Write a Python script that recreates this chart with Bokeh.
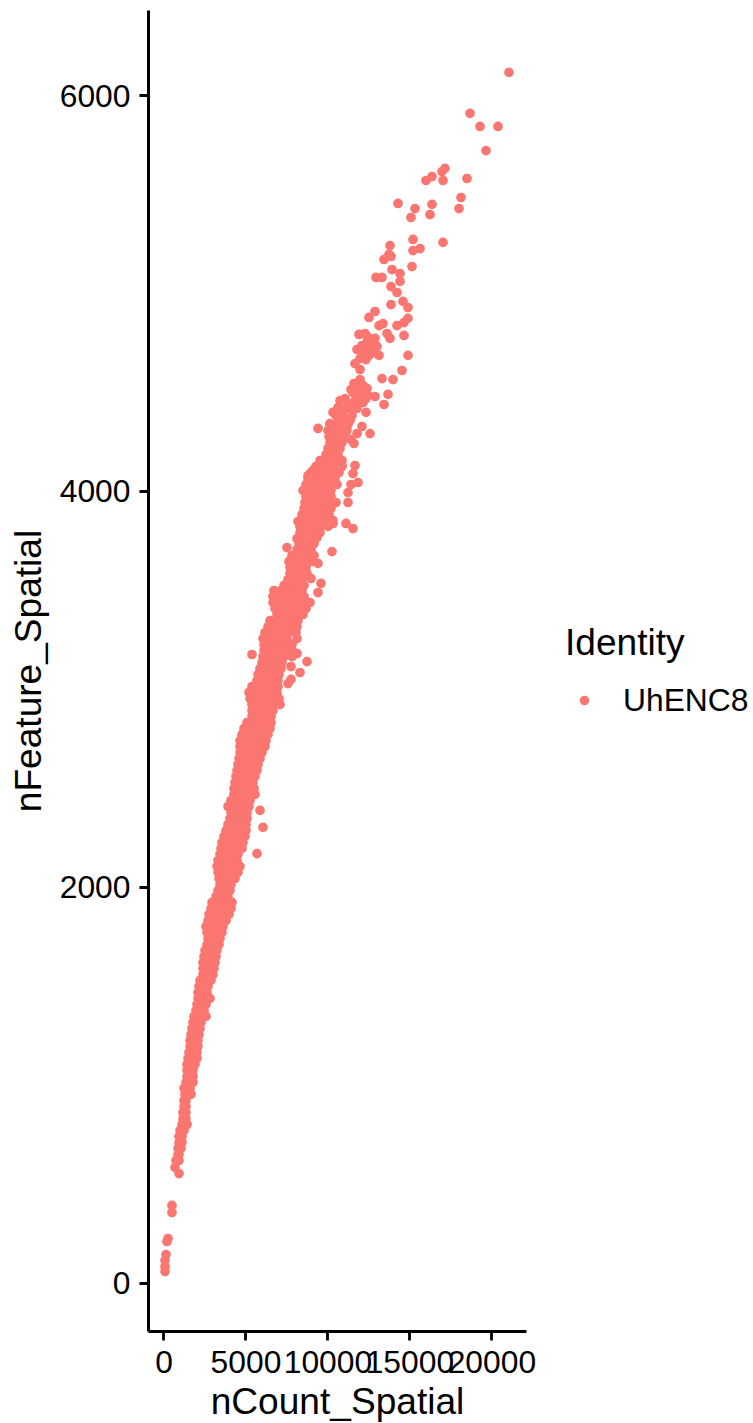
from bokeh.plotting import figure
from bokeh.models import FixedTicker, Legend, LegendItem, ColumnDataSource, Range1d
from bokeh.embed import file_html
from bokeh.resources import INLINE

# Points that can be read individually (upper, sparse part and the low tail)
sparse_count = [21045,18666,19276,20374,19642,17141,16958,16348,15982,17019,18483,18117,17995,14274,15311,16348,16226,15067,
15189,17019,13786,15189,15616,13725,13847,13420,15128,13908,14396,12932,13298,14396,13847,14213,14579,13847,14884,12871,12505,
14884,14640,14213,13359,13115,14640,11895,12261,13603,13786,12871,12383,12993,11773,12444,13115,14884,12322,11956,11651,11956,
14518,13298,13969,11956,11590,11407,12383,11834,12871,13664,11956,13420,12139,10736,11041,11224,11773,12322,10309,10858,11468,
10126,10614,12078,9394,10919,11773,12566,10126,10614,11163,11407,11590,10431,10126,10614,9943,9516,10675,10309,10858,11651,
9699,9089,8784,11529,9333,9943,10309,11834,11407,9028,9638,8479,11224,9089,10004,8723,9394,10492,11224,9943,8723,9333,8174,
9028,9638,10309,11102,11529,8418,9211,8113,8784,10248,7503,9394,9577,9394,8967,8723,8296,7747,7747,7564,5368,5856,6039,5673,8113,
488,488,244,183,122,61,61,61,
12383,12688,12078,12627,12261,12749,12078,12505,12810,12200,
11712,12139,11529,11834,12200,12444,11651,12017,12322,
10614,11102,11468,10492,11041,11346]
sparse_feature = [6117,5910,5844,5844,5722,5632,5616,5591,5571,5571,5581,5485,5429,5455,5429,5450,5399,5384,
5273,5258,5242,5217,5227,5197,5187,5172,5136,5121,5101,5081,5081,5061,5035,5005,4960,4944,4929,4909,4879,
4874,4853,4838,4848,4838,4788,4793,4798,4798,4773,4773,4752,4732,4717,4712,4687,4687,4666,4671,4646,4616,
4611,4570,4565,4565,4545,4515,4520,4520,4479,4490,4485,4439,4449,4459,4469,4444,4419,4399,4399,4394,4383,
4343,4348,4328,4318,4318,4292,4292,4282,4292,4308,4262,4242,4257,4222,4222,4171,4156,4166,4141,4131,4131,
4121,4106,4080,4090,4070,4080,4045,4045,4035,4040,4020,4004,3994,3994,3989,3959,3954,3944,3944,3919,3898,3893,3848,
3853,3853,3838,3838,3812,3807,3792,3762,3767,3696,3716,3636,3535,3489,3560,3140,3085,3115,3050,3029,3176,2388,2302,2170,3181,
392,356,225,210,144,114,83,58,
4783,4762,4737,4732,4712,4712,4702,4687,4702,4682,
4540,4535,4500,4490,4505,4485,4459,4459,4469,
4424,4419,4419,4383,4368,4358]

# Dense band, read row by row: one nFeature level and the nCount values seen there
band_feature = [4338,4308,4277,4247,4217,4186,4156,4126,4095,4065,4035,4004,3974,3944,3914,3883,3853,3823,3792,
3767,3737,3706,3676,3646,3616,3585,3555,3525,3499,3469,3438,3408,3378,3347,3317,3287,3256,3226,3196,3165,3135,3105,3075,
3044,3014,2984,2953,2923,2893,2863,2832,2802,2772,2741,2711,2681,2650,2620,2590,2560,2529,2499,2469,2438,2408,2378,2347,2317,2287,
2257,2226,2196,2166,2135,2105,2075,2044,2014,1984,1953,1923,1893,1863,1832,1802,1772,1741,1711,1681,1650,1620,1590,1559,1529,1499,
1468,1438,1408,1378,1347,1317,1287,1256,1226,1196,1165,1135,1105,1075,1044,1014,984,953,922,892,862,831,801,771,741,710,680,649,619,584,553]
band_counts = [
[10126,10492,10858,11224],[10004,10370,10736,11102],[10065,10431,10797,11041],[10126,10492,10858],[10004,10370,10736],[9882,10248,10614],
[9638,10065,10492,10858],[9272,9699,10126,10553,10858],[8967,9394,9821,10248,10675],[8784,9211,9638,10065,10431],
[8662,9028,9455,9882,10309,10553],[8540,8967,9394,9821,10187],[8662,9028,9455,9882,10187],[8601,9028,9455,9882,10309],
[8540,8967,9394,9821,10187],[8418,8845,9272,9699,10065],[8296,8723,9150,9577,10004,10309],[8296,8723,9150,9577,10004],[8296,8723,9150,9516],
[8479,8906,9333],[8235,8662,9150],[8113,8540,8967],[7808,8296,8784,9150],[7625,8113,8601,9028],[7686,8174,8662],[7686,8113,8479,8723],
[7564,7991,8418],[7320,7747,8174,8540],[6710,7137,7564,7991,8418],[6649,7076,7564,8052,8540],[6649,7137,7625,8113,8601,8906],
[6771,7259,7747,8235,8662],[6893,7320,7747,8174,8479],[6466,6954,7442,7930,8174],[6344,6832,7320,7808,8113],[6161,6649,7137,7625,8052],
[6039,6527,7015,7503,8113],[6100,6588,7076,7564,7808],[6100,6588,7076,7564,7808],[6039,6466,6893,7320,7808],[5978,6344,6710,7198],
[5856,6283,6710,7137],[5734,6161,6588,7015],[5673,6100,6527,6954],[5368,5795,6222,6649,6954],[5185,5673,6161,6649,6893],
[5246,5734,6222,6710,7015],[5368,5795,6222,6649,7076],[5368,5795,6222,6649],[5368,5734,6161,6527],[5063,5490,5917,6344,6527],
[4880,5307,5734,6161,6466],[4758,5185,5612,6039,6344],[4636,5063,5490,5917,6222],[4636,5063,5490,5917,6161],[4636,5002,5368,5734,5978],
[4575,4941,5368,5856],[4514,4880,5246,5734],[4453,4819,5246,5673],[4392,4758,5124,5551],[4331,4697,5063,5429],[4270,4636,5063,5490],
[4270,4636,5124,5551],[4087,4453,4819,5246],[3904,4331,4758,5185],[4087,4453,4819,5063],[4026,4392,4758,5063],[3904,4270,4636,5002],
[3782,4148,4514,5002],[3660,4026,4392,4758,4941],[3538,3965,4392,4819],[3477,3904,4331,4758],[3416,3843,4209,4514],[3294,3721,4148,4453],
[3233,3660,4148,4636],[3294,3721,4148,4514],[3355,3721,4087,4331],[3416,3782,4087],[3294,3660,4026],[3172,3538,3904],[2928,3355,3782,4148],
[2867,3294,3721,4087],[2745,3172,3599,3965],[2684,3050,3416,3782],[2562,2928,3294,3599],[2623,2989,3355,3538],[2684,3050,3416],
[2623,2989,3355],[2501,2867,3233],[2440,2806,3172],[2379,2745,3111],[2379,2745,3050],[2379,2684,2989],[2196,2562,2867],[2135,2440,2684],
[2074,2379,2623],[2074,2440,2806],[2013,2318,2562],[1952,2196,2440],[1830,2135,2562],[1769,2013,2257],[1708,1952,2196],[1647,1891,2135],
[1586,1830,2074],[1586,1830,2074],[1525,1769,2013],[1464,1708,2013],[1403,1647,1891],[1403,1586,1769],[1403,1586,1769],[1342,1586,1769],
[1220,1464,1586],[1281,1464,1647],[1220,1342],[1220,1342],[1159,1342],[1159,1342],[1098,1403],[976,1220],[915,1098],[915,1098],[854,1037],
[854,915],[732,915],[671],[915]]

x_ticks = [0, 5000, 10000, 15000, 20000]
y_ticks = [0, 2000, 4000, 6000]
x_title = "nCount_Spatial"
y_title = "nFeature_Spatial"
legend_title = "Identity"
legend_label = "UhENC8"
point_color = "#FB7670"
font = "Liberation Sans"

n_count = list(sparse_count)
n_feature = list(sparse_feature)
for level, counts in zip(band_feature, band_counts):
    for c in counts:
        n_count.append(c)
        n_feature.append(level)

p = figure(width=753, height=1423, output_backend="svg", toolbar_location=None,
           x_range=Range1d(-945, 22112), y_range=Range1d(-245, 6430),
           frame_width=378, frame_height=1321,
           min_border_left=148, min_border_top=10, min_border_right=10, min_border_bottom=92)
p.grid.visible = False
p.outline_line_color = None
p.background_fill_color = "white"

r = p.scatter("x", "y", source=ColumnDataSource(dict(x=n_count, y=n_feature)),
              size=9.7, marker="circle", fill_color=point_color, line_color=None)

for ax, ticks, title in ((p.xaxis[0], x_ticks, x_title), (p.yaxis[0], y_ticks, y_title)):
    ax.ticker = FixedTicker(ticks=ticks)
    ax.axis_label = title
    ax.axis_label_text_font = font
    ax.axis_label_text_font_size = "37.1px"
    ax.axis_label_text_font_style = "normal"
    ax.axis_label_text_color = "black"
    ax.major_label_text_font = font
    ax.major_label_text_font_size = "31.8px"
    ax.major_label_text_color = "black"
    ax.axis_line_color = "black"
    ax.axis_line_width = 3
    ax.major_tick_line_color = "black"
    ax.major_tick_line_width = 2.8
    ax.major_tick_in = 0
    ax.major_tick_out = 9
    ax.minor_tick_line_color = None
p.xaxis[0].major_label_standoff = 10
p.yaxis[0].major_label_standoff = 9
p.xaxis[0].axis_label_standoff = 4
p.yaxis[0].axis_label_standoff = 8
p.yaxis[0].major_label_orientation = "horizontal"

legend = Legend(items=[LegendItem(label=legend_label, renderers=[r])],
                location=(39, 612), title=legend_title,
                title_text_font=font, title_text_font_size="37.1px", title_text_font_style="normal",
                title_text_color="black", title_standoff=17,
                label_text_font=font, label_text_font_size="31.8px", label_text_color="black",
                glyph_width=38, glyph_height=24, label_standoff=20, label_height=38,
                padding=0, margin=0, spacing=0, border_line_color=None, background_fill_color=None,
                background_fill_alpha=0)
p.add_layout(legend, "right")

open("out.html", "w").write(file_html(p, INLINE))
